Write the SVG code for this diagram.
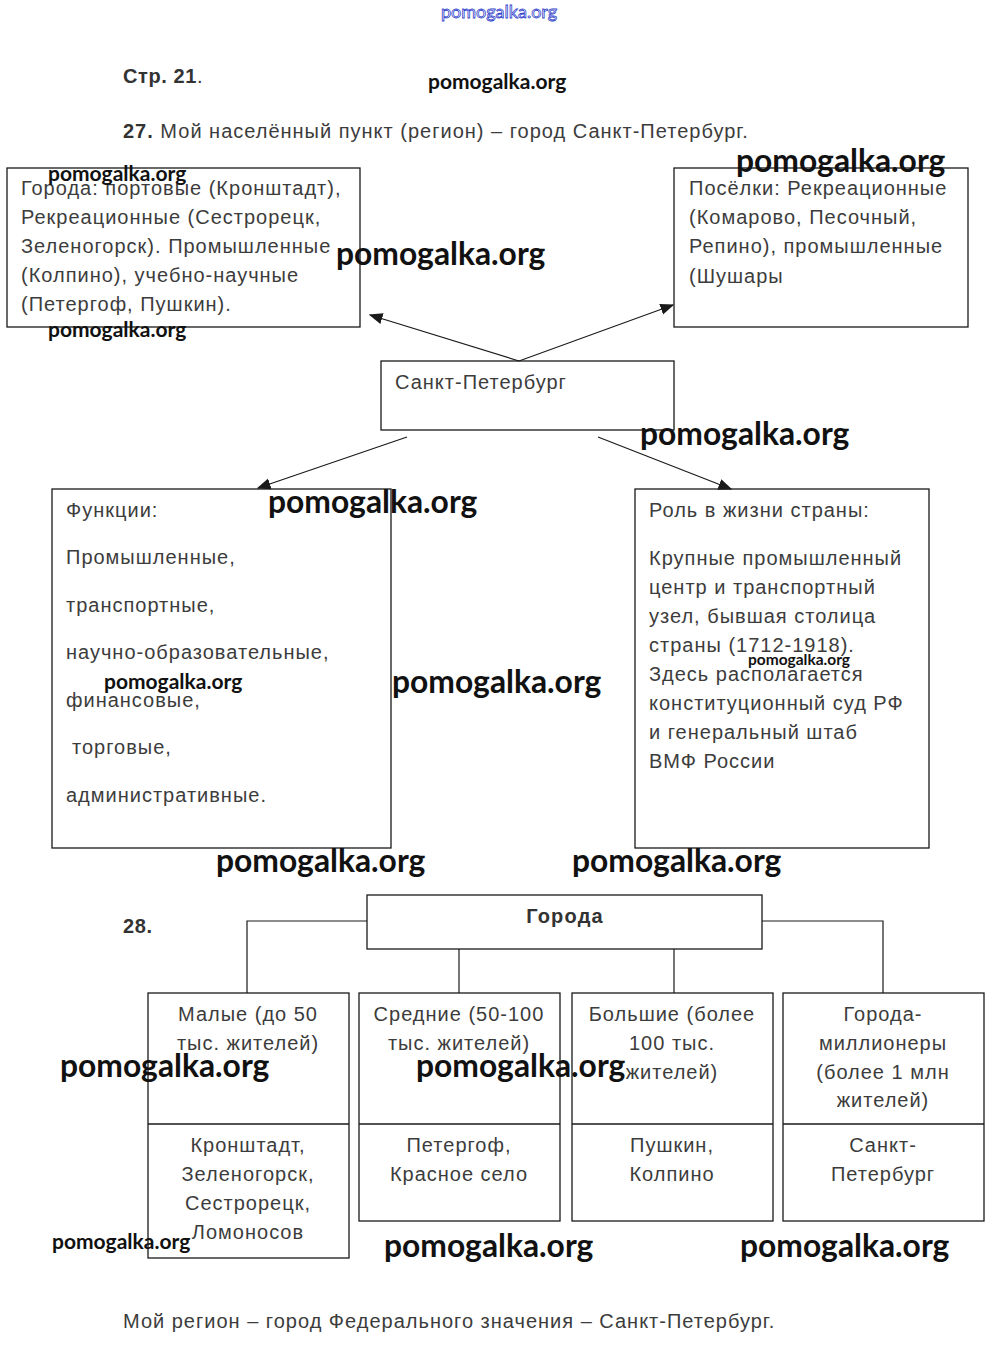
<svg xmlns="http://www.w3.org/2000/svg" width="998" height="1350" viewBox="0 0 998 1350">
<style>
.box{fill:none;stroke:#1a1a1a;stroke-width:1.3}
.t{font-family:"Liberation Sans",Arial,sans-serif;font-size:20px;letter-spacing:1px;fill:#3c3c3c}
.c{text-anchor:middle}
.b{font-family:"Liberation Sans",Arial,sans-serif;font-weight:bold;font-size:20px;letter-spacing:0.6px;fill:#333}
.ln{fill:none;stroke:#1a1a1a;stroke-width:1.2}
.wm{font-family:Lato,"Open Sans",sans-serif;font-weight:bold;fill:#111}
.w32{font-size:31.8px}
.w20{font-size:21px}
</style>
<defs>
<marker id="ah" viewBox="0 0 10 10" refX="9" refY="5" markerWidth="14" markerHeight="14" markerUnits="userSpaceOnUse" orient="auto">
<path d="M0,1 L10,5 L0,9 Z" fill="#1a1a1a"/>
</marker>
</defs>
<rect width="998" height="1350" fill="#fff"/>
<g id="header">
<text x="123" y="83" class="b">Стр. 21<tspan font-weight="normal">.</tspan></text>
<text x="123" y="138" class="t"><tspan font-weight="bold" fill="#333">27.</tspan> Мой населённый пункт (регион)  – город Санкт-Петербург.</text>
</g>
<g id="connectors">
<line class="ln" x1="519" y1="361" x2="370" y2="315" marker-end="url(#ah)"/>
<line class="ln" x1="519" y1="361" x2="673" y2="305" marker-end="url(#ah)"/>
<line class="ln" x1="407" y1="437" x2="258" y2="488" marker-end="url(#ah)"/>
<line class="ln" x1="598" y1="437" x2="731" y2="489" marker-end="url(#ah)"/>
<polyline class="ln" points="367,921 247,921 247,993"/>
<line class="ln" x1="459" y1="949" x2="459" y2="993"/>
<line class="ln" x1="674" y1="949" x2="674" y2="993"/>
<polyline class="ln" points="762,921 883,921 883,993"/>
</g>
<g id="goroda-tl">
<rect class="box" x="7" y="168" width="353" height="159"/>
<text class="t" x="21" y="195">Города: портовые (Кронштадт),</text>
<text class="t" x="21" y="224">Рекреационные (Сестрорецк,</text>
<text class="t" x="21" y="253">Зеленогорск). Промышленные</text>
<text class="t" x="21" y="282">(Колпино), учебно-научные</text>
<text class="t" x="21" y="311">(Петергоф, Пушкин).</text>
</g>
<g id="poselki">
<rect class="box" x="674" y="168" width="294" height="159"/>
<text class="t" x="689" y="195">Посёлки: Рекреационные</text>
<text class="t" x="689" y="224">(Комарово, Песочный,</text>
<text class="t" x="689" y="253">Репино), промышленные</text>
<text class="t" x="689" y="283">(Шушары</text>
</g>
<g id="spb">
<rect class="box" x="381" y="361" width="293" height="69"/>
<text class="t" x="395" y="389">Санкт-Петербург</text>
</g>
<g id="funkcii">
<rect class="box" x="52" y="489" width="339" height="359"/>
<text class="t" x="66" y="517">Функции:</text>
<text class="t" x="66" y="564">Промышленные,</text>
<text class="t" x="66" y="612">транспортные,</text>
<text class="t" x="66" y="659">научно-образовательные,</text>
<text class="t" x="66" y="707">финансовые,</text>
<text class="t" x="72" y="754">торговые,</text>
<text class="t" x="66" y="802">административные.</text>
</g>
<g id="rol">
<rect class="box" x="635" y="489" width="294" height="359"/>
<text class="t" x="649" y="517">Роль в жизни страны:</text>
<text class="t" x="649" y="565">Крупные промышленный</text>
<text class="t" x="649" y="594">центр и транспортный</text>
<text class="t" x="649" y="623">узел, бывшая столица</text>
<text class="t" x="649" y="652">страны (1712-1918).</text>
<text class="t" x="649" y="681">Здесь располагается</text>
<text class="t" x="649" y="710">конституционный суд РФ</text>
<text class="t" x="649" y="739">и генеральный штаб</text>
<text class="t" x="649" y="768">ВМФ России</text>
</g>
<g id="n28">
<text class="b" x="123" y="933">28.</text>
</g>
<g id="goroda">
<rect class="box" x="367" y="895" width="395" height="54"/>
<text class="b c" x="565" y="923" style="letter-spacing:1.2px">Города</text>
</g>
<g id="malye">
<rect class="box" x="148" y="993" width="201" height="265"/>
<line class="box" x1="148" y1="1124" x2="349" y2="1124"/>
<text class="t c" x="248" y="1021">Малые (до 50</text>
<text class="t c" x="248" y="1050">тыс. жителей)</text>
<text class="t c" x="248" y="1152">Кронштадт,</text>
<text class="t c" x="248" y="1181">Зеленогорск,</text>
<text class="t c" x="248" y="1210">Сестрорецк,</text>
<text class="t c" x="248" y="1239">Ломоносов</text>
</g>
<g id="srednie">
<rect class="box" x="359" y="993" width="201" height="228"/>
<line class="box" x1="359" y1="1124" x2="560" y2="1124"/>
<text class="t c" x="459" y="1021">Средние (50-100</text>
<text class="t c" x="459" y="1050">тыс. жителей)</text>
<text class="t c" x="459" y="1152">Петергоф,</text>
<text class="t c" x="459" y="1181">Красное село</text>
</g>
<g id="bolshie">
<rect class="box" x="572" y="993" width="201" height="228"/>
<line class="box" x1="572" y1="1124" x2="773" y2="1124"/>
<text class="t c" x="672" y="1021">Большие (более</text>
<text class="t c" x="672" y="1050">100 тыс.</text>
<text class="t c" x="672" y="1079">жителей)</text>
<text class="t c" x="672" y="1152">Пушкин,</text>
<text class="t c" x="672" y="1181">Колпино</text>
</g>
<g id="millionery">
<rect class="box" x="783" y="993" width="201" height="228"/>
<line class="box" x1="783" y1="1124" x2="984" y2="1124"/>
<text class="t c" x="883" y="1021">Города-</text>
<text class="t c" x="883" y="1050">миллионеры</text>
<text class="t c" x="883" y="1079">(более 1 млн</text>
<text class="t c" x="883" y="1107">жителей)</text>
<text class="t c" x="883" y="1152">Санкт-</text>
<text class="t c" x="883" y="1181">Петербург</text>
</g>
<g id="footer">
<text class="t" x="123" y="1328">Мой регион – город Федерального значения – Санкт-Петербург.</text>
</g>
<g id="watermarks">
<text x="441" y="18" font-family="Lato,sans-serif" font-size="18" fill="#fff" stroke="#3344cc" stroke-width="0.8">pomogalka.org</text>
<text class="wm w20" x="428" y="89">pomogalka.org</text>
<text class="wm w20" x="48" y="181">pomogalka.org</text>
<text class="wm w20" x="48" y="337">pomogalka.org</text>
<text class="wm w32" x="336" y="265">pomogalka.org</text>
<text class="wm w32" x="736" y="172">pomogalka.org</text>
<text class="wm w32" x="640" y="445">pomogalka.org</text>
<text class="wm w32" x="268" y="513">pomogalka.org</text>
<text class="wm w20" x="104" y="689">pomogalka.org</text>
<text class="wm w32" x="392" y="693">pomogalka.org</text>
<text class="wm" font-size="15.5" x="748" y="665">pomogalka.org</text>
<text class="wm w32" x="216" y="872">pomogalka.org</text>
<text class="wm w32" x="572" y="872">pomogalka.org</text>
<text class="wm w32" x="60" y="1077">pomogalka.org</text>
<text class="wm w32" x="416" y="1077">pomogalka.org</text>
<text class="wm w20" x="52" y="1249">pomogalka.org</text>
<text class="wm w32" x="384" y="1257">pomogalka.org</text>
<text class="wm w32" x="740" y="1257">pomogalka.org</text>
</g>
</svg>
